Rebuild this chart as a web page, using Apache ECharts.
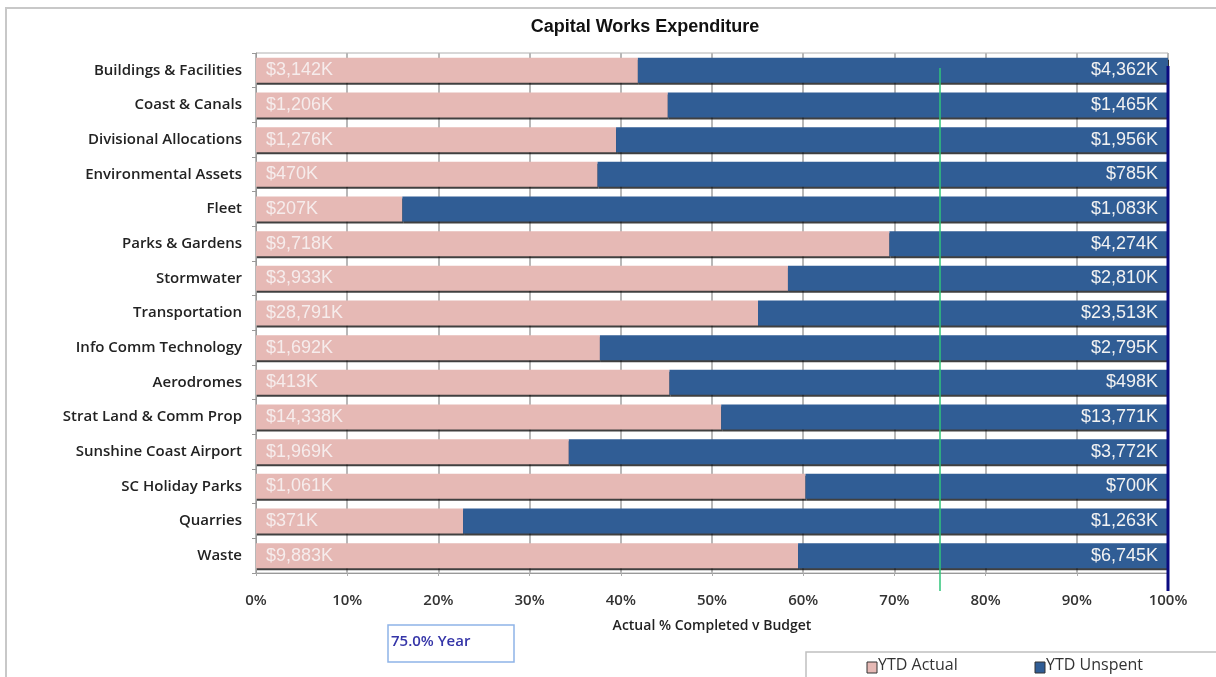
<!DOCTYPE html>
<html><head><meta charset="utf-8">
<script src="https://cdn.jsdelivr.net/npm/echarts@6/dist/echarts.min.js"></script>
<style>html,body{margin:0;padding:0;background:#fff}#c{width:1216px;height:677px}</style>
</head><body><div id="c"></div>
<script>
const categories = ["Buildings & Facilities","Coast & Canals","Divisional Allocations","Environmental Assets","Fleet","Parks & Gardens","Stormwater","Transportation","Info Comm Technology","Aerodromes","Strat Land & Comm Prop","Sunshine Coast Airport","SC Holiday Parks","Quarries","Waste"];
const ytdActual = [3142,1206,1276,470,207,9718,3933,28791,1692,413,14338,1969,1061,371,9883];
const ytdUnspent = [4362,1465,1956,785,1083,4274,2810,23513,2795,498,13771,3772,700,1263,6745];
const xTicks = [0,10,20,30,40,50,60,70,80,90,100];
const yearPct = 75.0;

const actualPct = ytdActual.map((v,i)=> v/(v+ytdUnspent[i])*100);
const unspentPct = ytdUnspent.map((v,i)=> v/(v+ytdActual[i])*100);
const fmtK = v => '$' + v.toLocaleString('en-US') + 'K';

const FONT = 'Open Sans';
const chart = echarts.init(document.getElementById('c'));
const shadow = {shadowColor:'rgba(0,0,0,0.75)', shadowOffsetX:1, shadowOffsetY:2, shadowBlur:0};
const GT = 53, GB = 104;
chart.setOption({
  animation:false,
  title:{text:'Capital Works Expenditure', left:640, top:13, textAlign:'center',
    textStyle:{fontFamily:'Arial', fontSize:18, fontWeight:'bold', color:'#111'}},
  grid:{left:256, right:48, top:GT, bottom:GB, show:true, borderColor:'#b0b0b0', borderWidth:1},
  legend:{show:false},
  xAxis:{type:'value', min:0, max:100, interval:10,
    name:'Actual % Completed v Budget', nameLocation:'middle', nameGap:46,
    nameTextStyle:{fontFamily:FONT, fontWeight:600, fontSize:14, color:'#222'},
    axisLabel:{formatter:v=>xTicks.includes(v)?v+'%':'', margin:20, fontFamily:FONT, fontWeight:600, fontSize:15, color:'#333'},
    axisLine:{show:true, lineStyle:{color:'#999'}}, axisTick:{show:true, length:3, lineStyle:{color:'#aaa'}},
    splitLine:{show:true, lineStyle:{color:'#b8b8b8', width:2}}},
  yAxis:{type:'category', data:categories, inverse:true,
    axisLabel:{fontFamily:FONT, fontWeight:600, fontSize:15, color:'#222', margin:14},
    axisLine:{show:true, lineStyle:{color:'#999'}},
    axisTick:{show:true, length:4, lineStyle:{color:'#999'}}},
  series:[
    {name:'YTD Actual', type:'bar', stack:'s', data:actualPct, barWidth:25,
     itemStyle:Object.assign({color:'#E6B9B5'}, shadow),
     label:{show:true, position:'insideLeft', distance:10, formatter:p=>fmtK(ytdActual[p.dataIndex]),
       fontFamily:'Arial', fontSize:18, color:'#f6ecec'}},
    {name:'YTD Unspent', type:'bar', stack:'s', data:unspentPct, barWidth:25,
     itemStyle:Object.assign({color:'#305D95'}, shadow),
     label:{show:true, position:'insideRight', distance:10, formatter:p=>fmtK(ytdUnspent[p.dataIndex]),
       fontFamily:'Arial', fontSize:18, color:'#f2f2f2'}}
  ]
});
// reference lines (75% of year, 100% budget) placed through the axis scale
const yTop = GT, yBot = 677 - GB;
const x75 = chart.convertToPixel({xAxisIndex:0}, yearPct);
const x100 = chart.convertToPixel({xAxisIndex:0}, 100);
chart.setOption({graphic:[
  {id:'frame', type:'rect', shape:{x:6, y:8, width:1240, height:700}, style:{fill:null, stroke:'#c8c8c8', lineWidth:2}, silent:true},
  {id:'ybox', type:'rect', shape:{x:388, y:625, width:126, height:37}, style:{fill:'#fff', stroke:'#8fb4e8', lineWidth:1.5}},
  {id:'ytxt', type:'text', x:391, y:634, style:{text:yearPct.toFixed(1)+'% Year', fontFamily:FONT, fontWeight:600, fontSize:15, fill:'#3535a8'}},
  {id:'lbox', type:'rect', shape:{x:806, y:652, width:420, height:40}, style:{fill:'#fff', stroke:'#c0c0c0', lineWidth:1.5}},
  {id:'lk1', type:'rect', shape:{x:867, y:662, width:10, height:11}, style:{fill:'#E6B9B5', stroke:'#333', lineWidth:1}},
  {id:'lt1', type:'text', x:878, y:657, style:{text:'YTD Actual', fontFamily:FONT, fontSize:16, fill:'#333'}},
  {id:'lk2', type:'rect', shape:{x:1035, y:662, width:10, height:11}, style:{fill:'#305D95', stroke:'#333', lineWidth:1}},
  {id:'lt2', type:'text', x:1046, y:657, style:{text:'YTD Unspent', fontFamily:FONT, fontSize:16, fill:'#333'}},
  {id:'l75', type:'line', z:100, shape:{x1:x75, y1:yTop+15, x2:x75, y2:yBot+18}, style:{stroke:'#2fc47a', lineWidth:1.5}},
  {id:'l100', type:'line', z:100, shape:{x1:x100, y1:yTop+13, x2:x100, y2:yBot+18}, style:{stroke:'#0a0a80', lineWidth:3}}
]});
</script></body></html>
